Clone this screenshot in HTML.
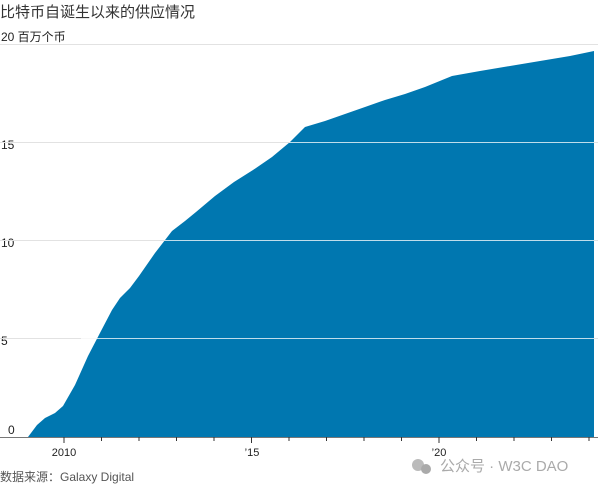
<!DOCTYPE html>
<html><head><meta charset="utf-8"><style>
body{margin:0;background:#fff;width:600px;height:484px;overflow:hidden;font-family:"Liberation Sans","Noto Sans CJK SC",sans-serif}
</style></head><body>
<svg width="600" height="484" xmlns="http://www.w3.org/2000/svg" font-family="Liberation Sans, Noto Sans CJK SC, sans-serif">
<text x="0" y="17" font-size="15" fill="#333">比特币自诞生以来的供应情况</text>
<text x="1" y="41" font-size="12" fill="#222">20 百万个币</text>
<g stroke="#e2e2e2" stroke-width="1">
<line x1="0" y1="44.5" x2="598" y2="44.5"/>
<line x1="0" y1="142.5" x2="598" y2="142.5"/>
<line x1="0" y1="240.5" x2="598" y2="240.5"/>
<line x1="0" y1="338.5" x2="598" y2="338.5"/>
</g>
<text x="1" y="149" font-size="12" fill="#222">15</text>
<text x="1" y="247" font-size="12" fill="#222">10</text>
<text x="1" y="345" font-size="12" fill="#222">5</text>
<text x="8" y="434" font-size="12" fill="#222">0</text>
<path d="M28,437 L37,425 L45,418 L55,413 L63,406 L75,385 L88,356 L101,331 L112,310 L120,298 L130,288 L139,276 L155,253 L172,231 L185,221 L196,212 L215,196 L234,182 L253,170 L272,157 L290,142 L305,127 L325,121 L345,114 L365,107 L385,100 L405,94 L425,87 L452,76 L480,71 L510,66 L540,61 L570,56 L594,51 L594,437 Z" fill="#0077b0"/>
<g stroke="#ffffff" stroke-opacity="0.75" stroke-width="1">
<line x1="0" y1="142.5" x2="594" y2="142.5"/>
<line x1="0" y1="240.5" x2="594" y2="240.5"/>
<line x1="0" y1="338.5" x2="594" y2="338.5"/>
</g>
<path d="M0,142.5H290 M0,240.5H165 M0,338.5H81" stroke="#e2e2e2"/>
<line x1="0" y1="437.5" x2="598" y2="437.5" stroke="#777" stroke-width="1"/>
<g stroke="#333" stroke-width="1">
<line x1="64" y1="437" x2="64" y2="443"/>
<line x1="101.5" y1="437" x2="101.5" y2="441"/>
<line x1="139" y1="437" x2="139" y2="441"/>
<line x1="176.5" y1="437" x2="176.5" y2="441"/>
<line x1="214" y1="437" x2="214" y2="441"/>
<line x1="251.5" y1="437" x2="251.5" y2="443"/>
<line x1="289" y1="437" x2="289" y2="441"/>
<line x1="326.5" y1="437" x2="326.5" y2="441"/>
<line x1="364" y1="437" x2="364" y2="441"/>
<line x1="401.5" y1="437" x2="401.5" y2="441"/>
<line x1="439" y1="437" x2="439" y2="443"/>
<line x1="476.5" y1="437" x2="476.5" y2="441"/>
<line x1="514" y1="437" x2="514" y2="441"/>
<line x1="551.5" y1="437" x2="551.5" y2="441"/>
<line x1="589" y1="437" x2="589" y2="441"/>
</g>
<text x="64" y="456" font-size="11" fill="#222" text-anchor="middle">2010</text>
<text x="252" y="456" font-size="11" fill="#222" text-anchor="middle">’15</text>
<text x="439" y="456" font-size="11" fill="#222" text-anchor="middle">’20</text>
<circle cx="418" cy="465" r="6" fill="#bbb"/><circle cx="426" cy="469" r="5" fill="#aaa"/>
<text x="440" y="471" font-size="15" fill="#aaa">公众号 · W3C DAO</text>
<text x="0" y="481" font-size="12" fill="#555">数据来源：Galaxy Digital</text>
</svg>
</body></html>
